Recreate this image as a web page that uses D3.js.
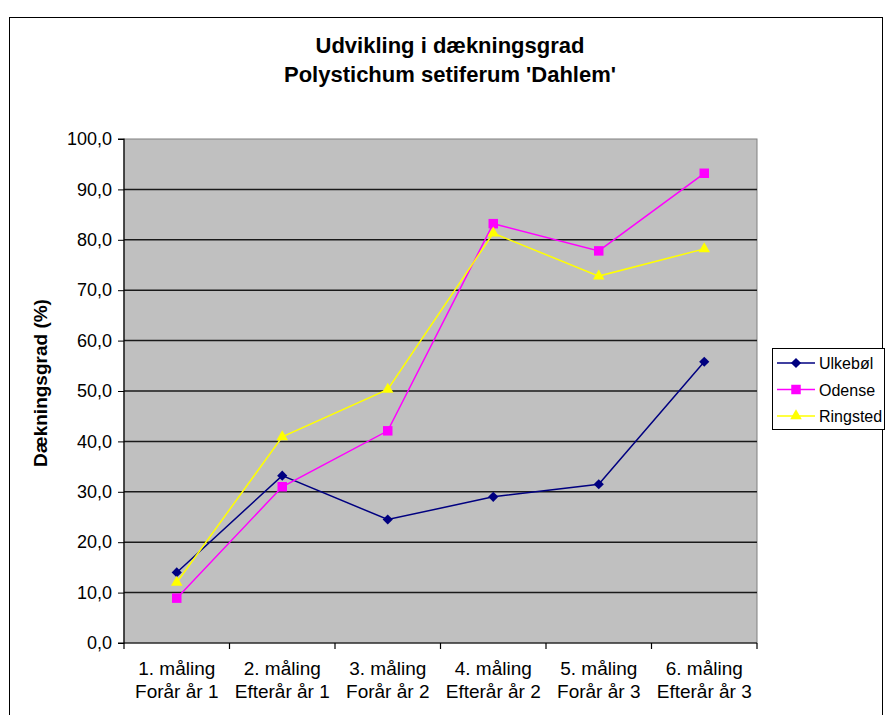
<!DOCTYPE html>
<html lang="en">
  <head>
    <meta charset="UTF-8" />
    <script src="https://d3js.org/d3.v7.min.js"></script>
    <title>Udvikling i dækningsgrad</title>
    <style>
      body { margin: 0; background: #fff; }
      text { font-family: "Liberation Sans", Arial, sans-serif; fill: #000; }
    </style>
  </head>
  <body>
    <script>
      // data
      const categories = [
        ["1. måling", "Forår år 1"],
        ["2. måling", "Efterår år 1"],
        ["3. måling", "Forår år 2"],
        ["4. måling", "Efterår år 2"],
        ["5. måling", "Forår år 3"],
        ["6. måling", "Efterår år 3"]
      ];
      const ulkebol = [14.0, 33.2, 24.5, 29.0, 31.5, 55.8];
      const odense = [8.9, 31.0, 42.1, 83.2, 77.8, 93.2];
      const ringsted = [12.0, 40.9, 50.3, 81.3, 72.8, 78.2];
      const yTicks = [0, 10, 20, 30, 40, 50, 60, 70, 80, 90, 100];

      const series = [
        { name: "Ulkebøl", values: ulkebol, color: "#000080", symbol: d3.symbolSquare, size: 52, rot: 45 },
        { name: "Odense", values: odense, color: "#ff00ff", symbol: d3.symbolSquare, size: 90, rot: 0 },
        { name: "Ringsted", values: ringsted, color: "#ffff00", symbol: d3.symbolTriangle, size: 58, rot: 0 }
      ];

      const W = 885, H = 715;
      const plot = { left: 124, right: 757, top: 139, bottom: 643 };

      let svg = d3.select("body").append("svg").attr("width", W).attr("height", H);

      // chart frame
      svg.append("rect")
        .attr("x", 9.5).attr("y", 17.5)
        .attr("width", 873).attr("height", 710)
        .attr("fill", "#fff").attr("stroke", "#000").attr("stroke-width", 1);

      let x = d3.scaleBand().domain(d3.range(categories.length)).range([plot.left, plot.right]);
      let y = d3.scaleLinear().domain([0, 100]).range([plot.bottom, plot.top]);

      // plot area
      svg.append("rect")
        .attr("x", plot.left).attr("y", plot.top)
        .attr("width", plot.right - plot.left).attr("height", plot.bottom - plot.top)
        .attr("fill", "#c0c0c0").attr("stroke", "#808080").attr("stroke-width", 1);

      // gridlines
      svg.append("g").selectAll("line")
        .data(yTicks.filter(d => d > 0 && d < 100))
        .enter().append("line")
        .attr("x1", plot.left).attr("x2", plot.right)
        .attr("y1", d => y(d)).attr("y2", d => y(d))
        .attr("stroke", "#1a1a1a").attr("stroke-width", 1.5);

      // y axis
      let yAxis = svg.append("g")
        .attr("transform", `translate(${plot.left},0)`)
        .call(d3.axisLeft(y).tickValues(yTicks).tickSize(6).tickPadding(6)
          .tickFormat(d => d3.format(".1f")(d).replace(".", ",")));
      yAxis.select(".domain").attr("stroke", "#000").attr("stroke-width", 1.2).attr("d", `M-6,${plot.top}H0V${plot.bottom}H-6`);
      yAxis.selectAll("text").style("font-size", "18px").attr("font-family", "Liberation Sans, Arial, sans-serif");

      // x axis
      let xAxis = svg.append("g").attr("transform", `translate(0,${plot.bottom})`);
      xAxis.append("line")
        .attr("x1", plot.left).attr("x2", plot.right)
        .attr("stroke", "#000").attr("stroke-width", 1.2);
      xAxis.selectAll(".tk")
        .data(d3.range(categories.length + 1))
        .enter().append("line")
        .attr("x1", d => plot.left + d * x.step()).attr("x2", d => plot.left + d * x.step())
        .attr("y1", 0).attr("y2", 6)
        .attr("stroke", "#000").attr("stroke-width", 1.2);
      let catLabels = xAxis.selectAll(".cat")
        .data(categories)
        .enter().append("text")
        .attr("text-anchor", "middle")
        .attr("x", (d, i) => x(i) + x.bandwidth() / 2)
        .style("font-size", "19px");
      catLabels.append("tspan").attr("x", (d, i) => x(i) + x.bandwidth() / 2).attr("y", 32).text(d => d[0]);
      catLabels.append("tspan").attr("x", (d, i) => x(i) + x.bandwidth() / 2).attr("y", 55).text(d => d[1]);

      // lines and markers
      let line = d3.line().x((d, i) => x(i) + x.bandwidth() / 2).y(d => y(d));
      series.forEach(s => {
        svg.append("path")
          .attr("d", line(s.values))
          .attr("fill", "none").attr("stroke", s.color).attr("stroke-width", 1.5);
        svg.append("g").selectAll("path")
          .data(s.values)
          .enter().append("path")
          .attr("transform", (d, i) => `translate(${x(i) + x.bandwidth() / 2},${y(d)}) rotate(${s.rot})`)
          .attr("d", d3.symbol().type(s.symbol).size(s.size))
          .attr("fill", s.color);
      });

      // title
      svg.append("text").attr("x", 450).attr("y", 53)
        .attr("text-anchor", "middle").style("font-size", "22px").style("font-weight", "bold")
        .text("Udvikling i dækningsgrad");
      svg.append("text").attr("x", 450).attr("y", 82)
        .attr("text-anchor", "middle").style("font-size", "22px").style("font-weight", "bold")
        .text("Polystichum setiferum 'Dahlem'");

      // y label
      svg.append("text")
        .attr("transform", "translate(47,383) rotate(-90)")
        .attr("text-anchor", "middle").style("font-size", "19px").style("font-weight", "bold")
        .text("Dækningsgrad (%)");

      // legend
      let lg = svg.append("g").attr("transform", "translate(772,348)");
      lg.append("rect").attr("x", 0.5).attr("y", 0.5).attr("width", 112).attr("height", 81)
        .attr("fill", "#fff").attr("stroke", "#000").attr("stroke-width", 1);
      series.forEach((s, i) => {
        let row = lg.append("g").attr("transform", `translate(0,${15 + i * 26.5})`);
        row.append("line").attr("x1", 5).attr("x2", 43).attr("stroke", s.color).attr("stroke-width", 1.5);
        row.append("path").attr("transform", `translate(24,0) rotate(${s.rot})`)
          .attr("d", d3.symbol().type(s.symbol).size(s.size)).attr("fill", s.color);
        row.append("text").attr("x", 47).attr("y", 6).style("font-size", "16px").text(s.name);
      });
    </script>
  </body>
</html>
